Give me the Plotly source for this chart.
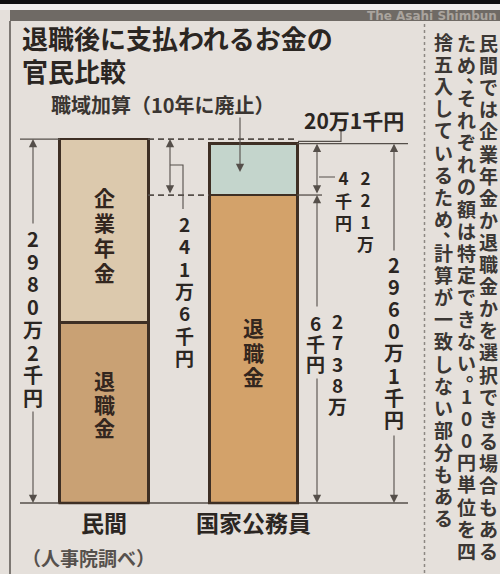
import plotly.graph_objects as go

# ---------------- data (単位: 万円) ----------------
CATEGORIES = ["民間", "国家公務員"]
SEVERANCE = [2190.0, 2738.6]          # 退職金
CORPORATE_PENSION = [790.2, None]     # 企業年金（民間のみ）
OCCUPATIONAL_ADD = [None, 221.4]      # 職域加算（国家公務員のみ）
TOTALS = [2980.2, 2960.1]             # 合計
SEGMENT_NAMES = ["退職金", "企業年金", "職域加算"]

TITLE_LINES = ["退職後に支払われるお金の", "官民比較"]
ADD_NOTE = "職域加算（10年に廃止）"
NOTE_COLUMNS = [
    "民間では企業年金か退職金かを選択できる場合もある",
    "ため、それぞれの額は特定できない。100円単位を四",
    "捨五入しているため、計算が一致しない部分もある",
]
SOURCE = "（人事院調べ）"
MASTHEAD = "The Asahi Shimbun"

# ---------------- layout constants ----------------
W, H = 500, 574
BASE_PX = 503                      # pixel row of the bar baseline
Y_RANGE = [1410.0, 3580.0]         # visible value window of the bar axis
X_RANGE = [-0.6957, 2.6488]
BARGAP = 0.408

FONT = "Noto Sans CJK JP"
BG = "#e5e0db"
INK = "#2b2622"
LINE = "#554f4a"
OUTLINE = "#3e2f24"
C_PRIV_SEV = "#c9a174"
C_PUB_SEV = "#d3a26a"
C_PENSION = "#dcc9ad"
C_ADD = "#c4d5cc"
LINE_SPACING = 1.3                 # plotly's multi-line spacing, in em


def px(x):
    return x / W


def py(y):
    return 1 - y / H


def vpx(v):
    """pixel row of a value on the bar axis"""
    return BASE_PX - (v - Y_RANGE[0]) / (Y_RANGE[1] - Y_RANGE[0]) * BASE_PX


def cat_px(i):
    """pixel column of a category centre"""
    return (i - X_RANGE[0]) / (X_RANGE[1] - X_RANGE[0]) * W


def yen(v):
    man, sen = divmod(round(v * 10), 10)
    return f"{man}万{sen}千円" if sen else f"{man}万円"


# ---------------- bars ----------------
fig = go.Figure()
edge = dict(color=OUTLINE, width=2.6)
fig.add_bar(x=CATEGORIES, y=SEVERANCE, name=SEGMENT_NAMES[0],
            marker=dict(color=[C_PRIV_SEV, C_PUB_SEV], line=edge))
fig.add_bar(x=CATEGORIES, y=CORPORATE_PENSION, name=SEGMENT_NAMES[1],
            marker=dict(color=C_PENSION, line=edge))
fig.add_bar(x=CATEGORIES, y=OCCUPATIONAL_ADD, name=SEGMENT_NAMES[2],
            marker=dict(color=C_ADD, line=edge))

ann = []
shp = []


def text(s, x, y, size, color=INK, bold=True, xanchor="left", xref="paper", family=FONT):
    ann.append(dict(text=s, x=px(x) if xref == "paper" else x, xref=xref,
                    y=py(y), yref="paper", showarrow=False,
                    xanchor=xanchor, yanchor="middle", borderpad=0,
                    font=dict(family=family, size=size, color=color,
                              weight="bold" if bold else "normal")))


def vtext(s, x, top, step, size, color=INK, bold=True, xref="paper"):
    """vertical (tategaki) text: runs of glyphs stacked one per line,
    with 、 and 。 set in half cells at the upper right"""
    weight = "bold" if bold else "normal"
    xv = px(x) if xref == "paper" else x
    run = []

    def flush():
        if not run:
            return
        body = "<br>".join(f"<span style='font-size:{size}px'>{c}</span>" for c, _ in run)
        mid = (run[0][1] + run[-1][1]) / 2
        ann.append(dict(text=body, x=xv, xref=xref, y=py(mid), yref="paper",
                        showarrow=False, xanchor="center", yanchor="middle",
                        align="center", borderpad=0,
                        font=dict(family=FONT, size=step / LINE_SPACING,
                                  color=color, weight=weight)))
        run.clear()

    cursor = top
    for ch in s:
        if ch in "、。":
            flush()
            cy = cursor + 0.25 * step
            ann.append(dict(text=ch, x=xv, xref=xref, y=py(cy), yref="paper",
                            showarrow=False, xanchor="center", yanchor="middle",
                            xshift=0.5 * size, yshift=0.35 * size, borderpad=0,
                            font=dict(family=FONT, size=size, color=color, weight=weight)))
            cursor += 0.5 * step
        else:
            run.append((ch, cursor + 0.5 * step))
            cursor += step
    flush()


def arrow(x, y_head, y_tail, both=False):
    ann.append(dict(text="", x=px(x), y=py(y_head), xref="paper", yref="paper",
                    ax=0, ay=y_tail - y_head, axref="pixel", ayref="pixel",
                    showarrow=True, arrowhead=2, arrowsize=1.5, arrowwidth=1.1,
                    arrowcolor=LINE, arrowside="end+start" if both else "end",
                    standoff=0, startstandoff=0))


def hline(x0, x1, y, dash=None, width=1.3, color=LINE):
    shp.append(dict(type="line", xref="paper", yref="paper",
                    x0=px(x0), x1=px(x1), y0=py(y), y1=py(y),
                    line=dict(color=color, width=width, dash=dash)))


def vline(x, y0, y1, dash=None, width=1.3, color=LINE):
    shp.append(dict(type="line", xref="paper", yref="paper",
                    x0=px(x), x1=px(x), y0=py(y0), y1=py(y1),
                    line=dict(color=color, width=width, dash=dash)))


def rect(x0, y0, x1, y1, color):
    shp.append(dict(type="rect", xref="paper", yref="paper",
                    x0=px(x0), x1=px(x1), y0=py(y0), y1=py(y1),
                    fillcolor=color, line=dict(width=0), layer="below"))


def path(points, width=1.1, color=LINE):
    d = "M " + " L ".join(f"{px(x)},{py(y)}" for x, y in points)
    shp.append(dict(type="path", xref="paper", yref="paper", path=d,
                    line=dict(color=color, width=width)))


# key rows
priv_top = vpx(SEVERANCE[0] + CORPORATE_PENSION[0])
pub_mid = vpx(SEVERANCE[1])
pub_top = vpx(SEVERANCE[1] + OCCUPATIONAL_ADD[1])

# masthead and frame
rect(0, 0, W, 4, "#111111")
rect(0, 4, W, 10, "#f2f0ed")
rect(10, 10, W, 21, "#6f6a65")
text(MASTHEAD, 498, 15.5, 12, color="#aaa49e", xanchor="right", family="DejaVu Sans")
vline(10, 21, H, width=2, color="#7d7873")
vline(424.5, 24, H, dash="3px,3px", width=1.5, color="#8d8782")

# title
text(TITLE_LINES[0], 21, 37, 26)
text(TITLE_LINES[1], 21, 71, 26)

# guide lines
hline(20, 408, BASE_PX, width=1.5)
half_bar = (1 - BARGAP) / 2 * W / (X_RANGE[1] - X_RANGE[0])
for i in range(len(CATEGORIES)):
    # closing edge of each bar on the baseline
    hline(cat_px(i) - half_bar - 1.3, cat_px(i) + half_bar + 1.3, BASE_PX,
          width=2.6, color=OUTLINE)
hline(20, 60, priv_top)
hline(148, 296, priv_top, dash="6px,4px", width=1.8)
hline(148, 209, pub_mid, dash="6px,4px", width=1.8)
hline(297, 408, pub_top)
hline(297, 322, pub_mid)

# total of 民間
arrow(33, priv_top, 225)
arrow(33, BASE_PX, 410)
vtext(yen(TOTALS[0]), 33, 227, 22.7, 20)

# 民間 minus 国家公務員退職金
arrow(170, priv_top, pub_mid, both=True)
path([(170, 165), (183, 165), (183, 209)])
vtext(yen(TOTALS[0] - SEVERANCE[1]), 184, 212, 22.3, 19)

# 職域加算 note and leader
text(ADD_NOTE, 50, 105, 20, color="#3a3531")
arrow(240, 172, 116)

# difference of totals
text(yen(TOTALS[0] - TOTALS[1]), 303, 120, 21)
path([(341, 131), (341, 141.4), (298, 141.4)])

# 職域加算 amount
arrow(317, pub_top, pub_mid, both=True)
hline(319, 335, 177, width=1)
add_label = yen(OCCUPATIONAL_ADD[1])
k = add_label.index("万") + 1
vtext(add_label[:k], 365, 166, 22, 17)
vtext(add_label[k:], 343, 166, 22.5, 17)

# 国家公務員退職金 amount
arrow(317, pub_mid, 308)
arrow(317, BASE_PX, 377)
sev_label = yen(SEVERANCE[1])
k = sev_label.index("万") + 1
vtext(sev_label[:k], 337, 309.4, 21.3, 19)
vtext(sev_label[k:], 315, 312.7, 20.5, 19)

# total of 国家公務員
arrow(394, pub_top, 252)
arrow(394, BASE_PX, 434)
vtext(yen(TOTALS[1]), 394, 254, 22.1, 20)

# segment names inside bars
SEG_INK = "#33261e"
vtext(SEGMENT_NAMES[1], CATEGORIES[0], 184.5, 25, 21, color=SEG_INK, xref="x")
vtext(SEGMENT_NAMES[0], CATEGORIES[0], 368.3, 23.5, 21, color=SEG_INK, xref="x")
vtext(SEGMENT_NAMES[0], CATEGORIES[1], 314.8, 24.5, 21, color=SEG_INK, xref="x")

# category names
for c in CATEGORIES:
    text(c, c, 522, 23, xanchor="center", xref="x")

# source
text(SOURCE, 21, 557, 19, color="#56514d")

# side note, read right to left
for col_x, col in zip([488, 466, 443], NOTE_COLUMNS):
    vtext(col, col_x, 31, 22.1, 19, color="#3b3734")

fig.update_layout(
    width=W, height=H,
    margin=dict(l=0, r=0, t=0, b=0),
    paper_bgcolor=BG, plot_bgcolor="rgba(0,0,0,0)",
    barmode="stack", bargap=BARGAP,
    showlegend=False, hovermode=False,
    xaxis=dict(type="category", range=X_RANGE, visible=False, domain=[0, 1]),
    yaxis=dict(range=Y_RANGE, visible=False, domain=[(H - BASE_PX) / H, 1]),
    annotations=ann, shapes=shp,
)

fig.write_html("out.html")
